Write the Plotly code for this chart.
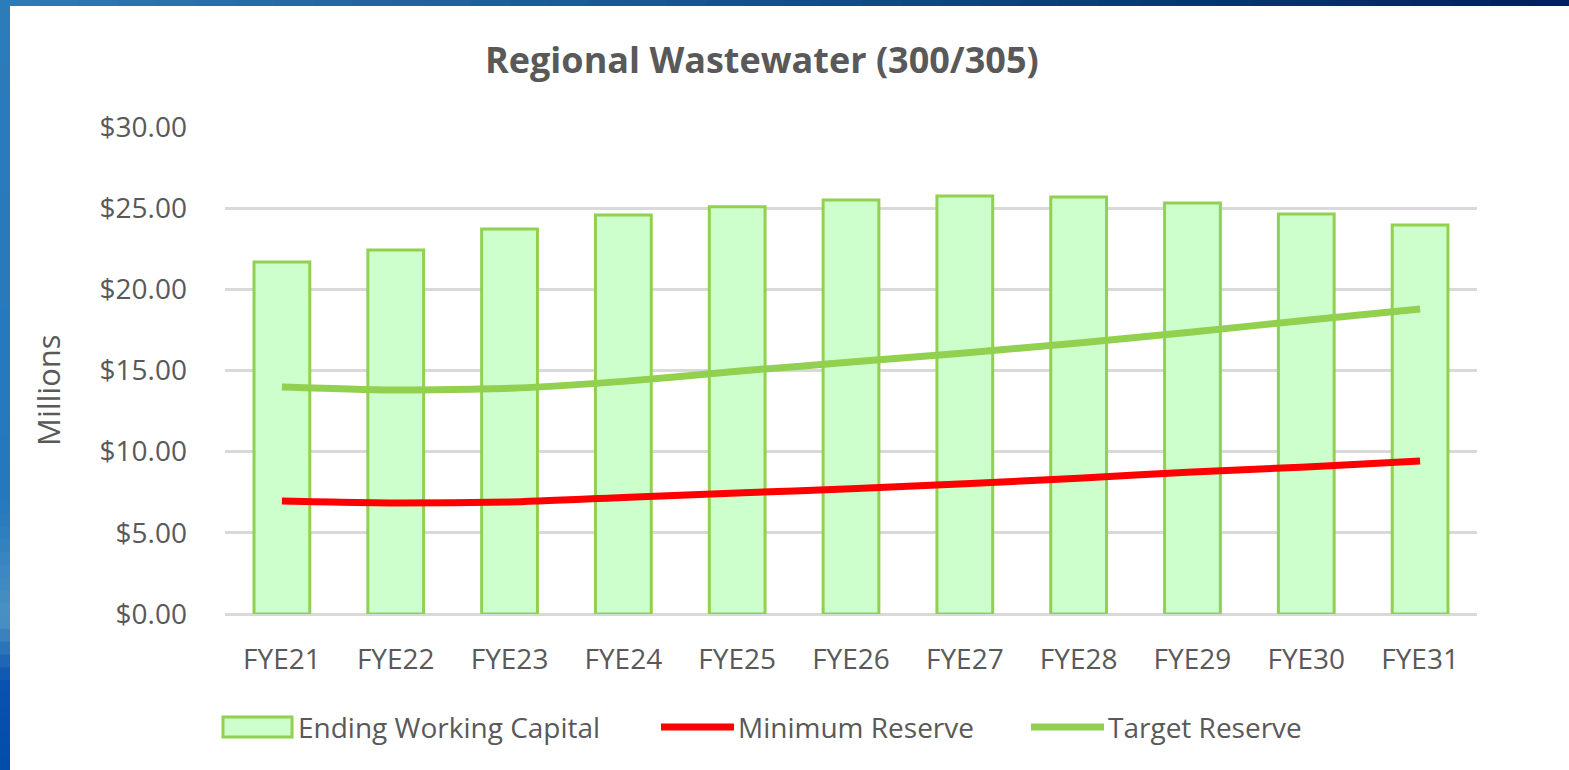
import plotly.graph_objects as go

categories = ["FYE21", "FYE22", "FYE23", "FYE24", "FYE25", "FYE26", "FYE27", "FYE28", "FYE29", "FYE30", "FYE31"]
ending_working_capital = [21.68, 22.42, 23.72, 24.58, 25.08, 25.50, 25.75, 25.69, 25.32, 24.64, 23.97]
minimum_reserve = [6.96, 6.84, 6.90, 7.18, 7.45, 7.72, 8.02, 8.37, 8.74, 9.06, 9.43]
target_reserve = [13.99, 13.80, 13.90, 14.33, 14.95, 15.52, 16.08, 16.70, 17.37, 18.10, 18.79]
tick_vals = [0, 5, 10, 15, 20, 25, 30]
tick_text = ["$0.00", "$5.00", "$10.00", "$15.00", "$20.00", "$25.00", "$30.00"]

W, H = 1569, 770
L, R, T, B = 225, 1477, 127, 614
FONT = "Open Sans"
GREY = "#595959"

def px(x):
    return (x - L) / (R - L)

def py(y):
    return (B - y) / (B - T)

fig = go.Figure()
fig.add_trace(go.Bar(x=categories, y=ending_working_capital, name="Ending Working Capital",
                     marker=dict(color="#ccffcc", line=dict(color="#92d050", width=3)),
                     showlegend=False))
fig.add_trace(go.Scatter(x=categories, y=minimum_reserve, name="Minimum Reserve", mode="lines",
                         line=dict(color="#ff0000", width=7, shape="spline", smoothing=0.6),
                         showlegend=False))
fig.add_trace(go.Scatter(x=categories, y=target_reserve, name="Target Reserve", mode="lines",
                         line=dict(color="#92d050", width=7, shape="spline", smoothing=0.6),
                         showlegend=False))

shapes = []
# decorative blue frame (top strip and left strip), approximated gradients
def lerp(c1, c2, t):
    return "#%02x%02x%02x" % tuple(int(round(a + (b - a) * t)) for a, b in zip(c1, c2))

n = 40
top_c1, top_c2 = (44, 122, 184), (0, 32, 96)
for i in range(n):
    x0 = W * i / n
    x1 = W * (i + 1) / n + 1
    shapes.append(dict(type="rect", xref="paper", yref="paper", x0=px(x0), x1=px(x1),
                       y0=py(6), y1=py(-1), fillcolor=lerp(top_c1, top_c2, i / (n - 1)),
                       line=dict(width=0), layer="below"))
stops = [(0, (44, 124, 186)), (500, (36, 120, 190)), (620, (74, 146, 196)), (680, (10, 84, 176)), (770, (0, 76, 170))]
m = 60
for i in range(m):
    y0 = H * i / m
    y1 = H * (i + 1) / m + 1
    yc = (y0 + y1) / 2
    for j in range(len(stops) - 1):
        if stops[j][0] <= yc <= stops[j + 1][0]:
            t = (yc - stops[j][0]) / (stops[j + 1][0] - stops[j][0])
            col = lerp(stops[j][1], stops[j + 1][1], t)
            break
    shapes.append(dict(type="rect", xref="paper", yref="paper", x0=px(-1), x1=px(10),
                       y0=py(y1), y1=py(y0), fillcolor=col, line=dict(width=0), layer="below"))

# legend
ly = 727
shapes.append(dict(type="rect", xref="paper", yref="paper", x0=px(223), x1=px(292),
                   y0=py(737), y1=py(717), fillcolor="#ccffcc",
                   line=dict(color="#92d050", width=3)))
shapes.append(dict(type="line", xref="paper", yref="paper", x0=px(661), x1=px(734),
                   y0=py(ly), y1=py(ly), line=dict(color="#ff0000", width=7)))
shapes.append(dict(type="line", xref="paper", yref="paper", x0=px(1031), x1=px(1104),
                   y0=py(ly), y1=py(ly), line=dict(color="#92d050", width=7)))

annotations = []
for txt, x in [("Ending Working Capital", 296), ("Minimum Reserve", 736), ("Target Reserve", 1106)]:
    annotations.append(dict(text=txt, xref="paper", yref="paper", x=px(x), y=py(ly),
                            xanchor="left", yanchor="middle", showarrow=False,
                            font=dict(family=FONT, size=28, color=GREY)))
annotations.append(dict(text="Millions", xref="paper", yref="paper", x=px(48), y=py(390),
                        xanchor="center", yanchor="middle", textangle=-90, showarrow=False,
                        font=dict(family=FONT, size=31, color=GREY)))
annotations.append(dict(text="<b>Regional Wastewater (300/305)</b>", xref="paper", yref="paper",
                        x=px(762), y=py(60), xanchor="center", yanchor="middle", showarrow=False,
                        font=dict(family=FONT, size=36, color=GREY)))

fig.update_layout(
    width=W, height=H,
    margin=dict(l=L, r=W - R, t=T, b=H - B, pad=0),
    paper_bgcolor="white", plot_bgcolor="white",
    bargap=0.51,
    shapes=shapes, annotations=annotations,
    showlegend=False,
    xaxis=dict(showgrid=False, showline=False, ticks="", tickfont=dict(family=FONT, size=28, color=GREY),
               ticklabelstandoff=26),
    yaxis=dict(range=[0, 30], tickvals=tick_vals, ticktext=tick_text, showgrid=True,
               gridcolor="#d9d9d9", gridwidth=3, zeroline=True, zerolinecolor="#d9d9d9", zerolinewidth=3,
               showline=False, ticks="", tickfont=dict(family=FONT, size=28, color=GREY),
               ticklabelstandoff=37),
)

fig.write_html("out.html", config={"displayModeBar": False},
               post_script="document.body.style.margin='0';document.body.style.padding='0';document.body.style.overflow='hidden';")
